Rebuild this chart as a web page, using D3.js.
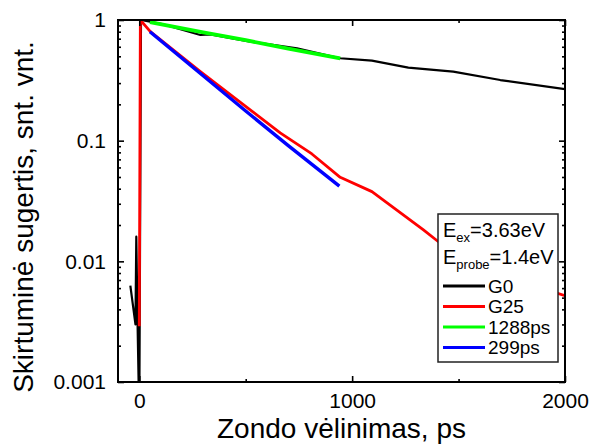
<!DOCTYPE html>
<html><head><meta charset="utf-8">
<script src="https://cdn.jsdelivr.net/npm/d3@7"></script>
<style>body{margin:0;background:#fff}svg{display:block}text{font-family:"Liberation Sans",Arial,sans-serif;fill:#000}</style>
</head><body><svg id="c" width="595" height="447"></svg>
<script>
// ---- data ----
const g0X = [-42, -18, -14, -8, 0, 8, 107, 287, 334, 521, 741, 944, 1093, 1264, 1475, 1696, 2000];
const g0Y = [0.0063, 0.0030, 0.016, 0.0030, 0.0005, 1.0, 0.927, 0.751, 0.761, 0.661, 0.583, 0.482, 0.460, 0.403, 0.373, 0.318, 0.267];
const g25X = [0, 5, 52, 287, 521, 662, 811, 944, 1093, 1335, 1404, 1500, 1750, 2000];
const g25Y = [0.0029, 1.0, 0.80, 0.373, 0.180, 0.116, 0.0776, 0.0497, 0.0378, 0.0182, 0.0146, 0.0105, 0.0072, 0.0052];
const fitSlowX = [50, 300, 500, 700, 944];
const fitSlowY = [0.96, 0.79, 0.68, 0.58, 0.48];
const fitFastX = [50, 300, 500, 700, 940];
const fitFastY = [0.80, 0.345, 0.176, 0.091, 0.042];
const seriesNames = ["G0", "G25", "1288ps", "299ps"];
const seriesColors = ["#000000", "#ff0000", "#00ff00", "#0000ff"];
const xMajorTicks = [0, 1000, 2000];
const xMinorTicks = [500, 1500];
const yMajorTicks = [1, 0.1, 0.01, 0.001];
const yMajorLabels = ["1", "0.1", "0.01", "0.001"];
const xTitle = "Zondo vėlinimas, ps";
const yTitle = "Skirtuminė sugertis, snt. vnt.";

// ---- layout ----
const L = 118, R = 565, T = 20, B = 382;
const svg = d3.select("#c");
const x = d3.scaleLinear().domain([-100, 2000]).range([L, R]);
const y = d3.scaleLog().domain([0.001, 1]).range([B, T]);

const yMinor = [];
[0.001, 0.01, 0.1].forEach(d => { for (let k = 2; k <= 9; k++) yMinor.push(d * k); });

svg.append("defs").append("clipPath").attr("id", "clip")
  .append("rect").attr("x", L).attr("y", T).attr("width", R - L).attr("height", B - T);

// series
const series = [
  {x: g0X, y: g0Y, w: 2.2},
  {x: g25X, y: g25Y, w: 2.8},
  {x: fitSlowX, y: fitSlowY, w: 3.8},
  {x: fitFastX, y: fitFastY, w: 3.4}
];
const line = d3.line().x(d => x(d[0])).y(d => y(Math.max(d[1], 1e-4)));
const gl = svg.append("g").attr("clip-path", "url(#clip)");
series.forEach((s, i) => {
  gl.append("path").datum(s.x.map((v, j) => [v, s.y[j]]))
    .attr("d", line).attr("fill", "none")
    .attr("stroke", seriesColors[i]).attr("stroke-width", s.w)
    .attr("stroke-linejoin", "round");
});

// axes
function styleAxis(g) {
  g.select(".domain").remove();
  g.selectAll(".tick line").attr("stroke", "#000").attr("stroke-width", 1.6);
  g.selectAll("text").style("font-size", "21px").style("font-family", '"Liberation Sans",Arial,sans-serif');
}
svg.append("g").attr("transform", `translate(0,${B})`)
  .call(d3.axisBottom(x).tickValues(xMajorTicks).tickSizeInner(-6).tickSizeOuter(0).tickPadding(11).tickFormat(d3.format("d")))
  .call(styleAxis);
svg.append("g").attr("transform", `translate(0,${B})`)
  .call(d3.axisBottom(x).tickValues(xMinorTicks).tickSizeInner(-3).tickSizeOuter(0).tickFormat(""))
  .call(styleAxis);
svg.append("g").attr("transform", `translate(0,${T})`)
  .call(d3.axisTop(x).tickValues(xMajorTicks).tickSizeInner(-6).tickSizeOuter(0).tickFormat(""))
  .call(styleAxis);
svg.append("g").attr("transform", `translate(0,${T})`)
  .call(d3.axisTop(x).tickValues(xMinorTicks).tickSizeInner(-3).tickSizeOuter(0).tickFormat(""))
  .call(styleAxis);
svg.append("g").attr("transform", `translate(${L},0)`)
  .call(d3.axisLeft(y).tickValues(yMajorTicks).tickSizeInner(-6).tickSizeOuter(0).tickPadding(12)
    .tickFormat((d, i) => yMajorLabels[i]))
  .call(styleAxis);
svg.append("g").attr("transform", `translate(${L},0)`)
  .call(d3.axisLeft(y).tickValues(yMinor).tickSizeInner(-3).tickSizeOuter(0).tickFormat(""))
  .call(styleAxis);
svg.append("g").attr("transform", `translate(${R},0)`)
  .call(d3.axisRight(y).tickValues(yMajorTicks).tickSizeInner(-6).tickSizeOuter(0).tickFormat(""))
  .call(styleAxis);
svg.append("g").attr("transform", `translate(${R},0)`)
  .call(d3.axisRight(y).tickValues(yMinor).tickSizeInner(-3).tickSizeOuter(0).tickFormat(""))
  .call(styleAxis);

// frame
svg.append("rect").attr("x", L).attr("y", T).attr("width", R - L).attr("height", B - T)
  .attr("fill", "none").attr("stroke", "#000").attr("stroke-width", 2);

// titles
svg.append("text").attr("x", (L + R) / 2).attr("y", 438).attr("text-anchor", "middle")
  .style("font-size", "28px").text(xTitle);
svg.append("text").attr("transform", "translate(33,217) rotate(-90)").attr("text-anchor", "middle")
  .style("font-size", "28px").text(yTitle);

// legend
const lg = svg.append("g");
lg.append("rect").attr("x", 438).attr("y", 214).attr("width", 120).attr("height", 148)
  .attr("fill", "#fff").attr("stroke", "#222").attr("stroke-width", 1.5);
const t1 = lg.append("text").attr("x", 443).attr("y", 237).style("font-size", "20px");
t1.append("tspan").text("E");
t1.append("tspan").attr("dy", 5).style("font-size", "13px").text("ex");
t1.append("tspan").attr("dy", -5).text("=3.63eV");
const t2 = lg.append("text").attr("x", 443).attr("y", 264).style("font-size", "20px");
t2.append("tspan").text("E");
t2.append("tspan").attr("dy", 5).style("font-size", "13px").text("probe");
t2.append("tspan").attr("dy", -5).text("=1.4eV");
const rowY = [286, 306.5, 327, 347.5];
seriesNames.forEach((n, i) => {
  lg.append("line").attr("x1", 443).attr("x2", 485).attr("y1", rowY[i]).attr("y2", rowY[i])
    .attr("stroke", seriesColors[i]).attr("stroke-width", 2.8);
  lg.append("text").attr("x", 488).attr("y", rowY[i] + 6.8).style("font-size", "19px").text(n);
});
</script></body></html>
